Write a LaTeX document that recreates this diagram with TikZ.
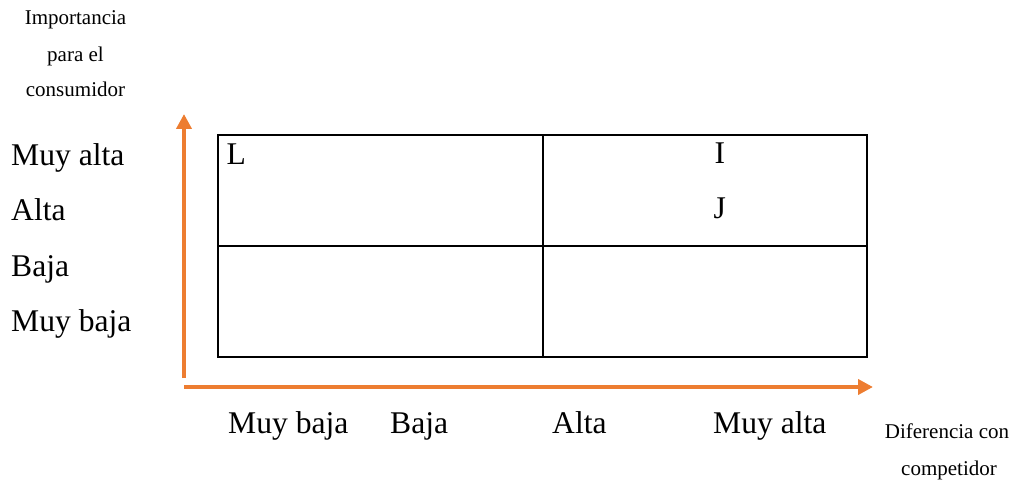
\documentclass[tikz,border=0pt]{standalone}
\usepackage{fontspec}
\setmainfont{Liberation Serif}
\usetikzlibrary{arrows.meta}
\definecolor{axisorange}{RGB}{237,125,49}
\tikzset{
  big/.style={inner sep=0pt, anchor=base west, font=\fontsize{31.6}{36}\selectfont},
  small/.style={inner sep=0pt, anchor=base, font=\fontsize{21}{25}\selectfont},
  axis/.style={draw=axisorange, line width=4pt, -{Triangle[length=15pt,width=15pt]}},
  grid/.style={draw=black, line width=2pt}
}
\begin{document}
\begin{tikzpicture}[x=1pt,y=-1pt]
\useasboundingbox (0,0) rectangle (1013,481);
% axis titles
\node[small] (t1) at (75.5,25) {Importancia};
\node[small] (t2) at (75.5,61.5) {para el};
\node[small] (t3) at (75.5,97) {consumidor};
\node[small] (d1) at (947,438) {Diferencia con};
\node[small] (d2) at (949,475) {competidor};
% axes
\coordinate (vs) at (184,378);
\coordinate (ve) at (184,114);
\coordinate (hs) at (184,387);
\coordinate (he) at (873,387);
\draw[axis] (vs) -- (ve);
\draw[axis] (hs) -- (he);
% y labels
\node[big] (y1) at (11,166) {Muy alta};
\node[big] (y2) at (11,221) {Alta};
\node[big] (y3) at (11,276.5) {Baja};
\node[big] (y4) at (11,331.5) {Muy baja};
% x labels
\node[big] (x1) at (228,433) {Muy baja};
\node[big] (x2) at (390,433) {Baja};
\node[big] (x3) at (552,433) {Alta};
\node[big] (x4) at (713,433) {Muy alta};
% grid
\coordinate (tl) at (218,135);
\coordinate (br) at (867,357);
\coordinate (mt) at (543,135);
\coordinate (mb) at (543,357);
\coordinate (ml) at (218,246);
\coordinate (mr) at (867,246);
\draw[grid] (tl) rectangle (br);
\draw[grid] (mt) -- (mb);
\draw[grid] (ml) -- (mr);
% cell letters
\node[big] (L) at (226.5,165) {L};
\node[big] (I) at (714.5,164) {I};
\node[big] (J) at (713.5,219) {J};
\end{tikzpicture}
\end{document}
